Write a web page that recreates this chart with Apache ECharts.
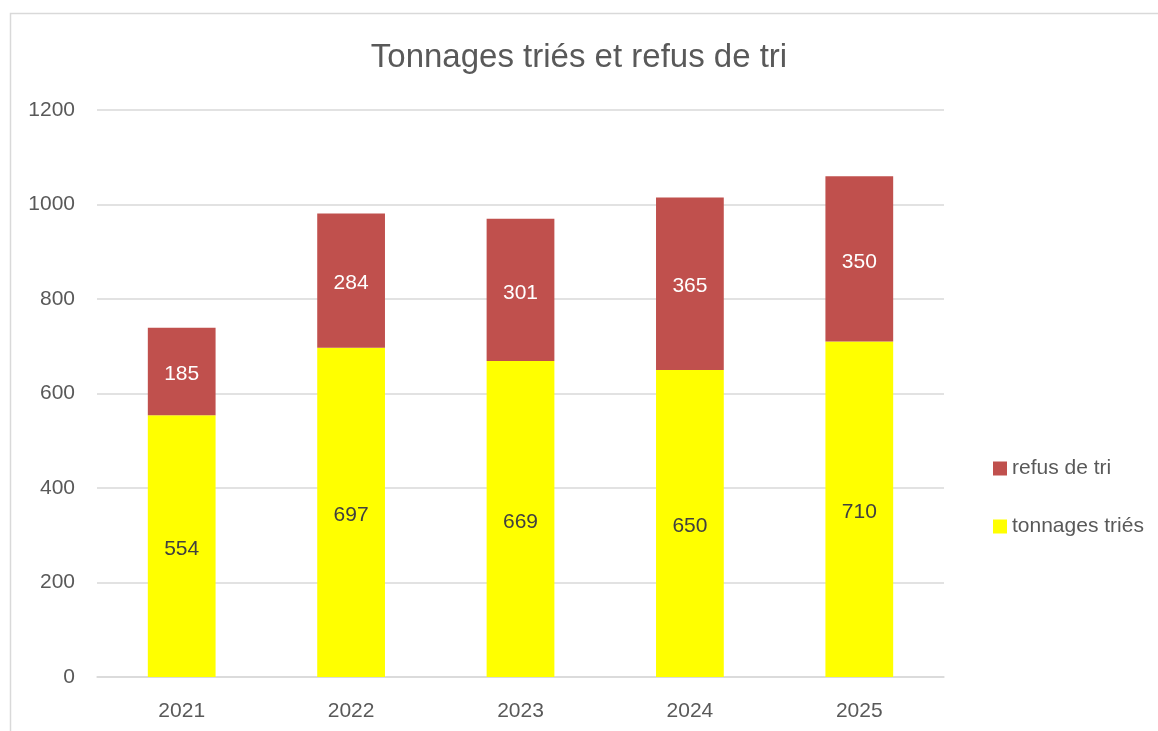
<!DOCTYPE html>
<html>
<head>
<meta charset="utf-8">
<script src="https://cdn.jsdelivr.net/npm/echarts@6/dist/echarts.min.js"></script>
<style>
  html, body { margin: 0; padding: 0; background: #fff; }
  #chart { width: 1158px; height: 731px; }
</style>
</head>
<body>
<div id="chart"></div>
<script>
var years = ['2021', '2022', '2023', '2024', '2025'];
var tonnagesTries = [554, 697, 669, 650, 710];
var refusDeTri = [185, 284, 301, 365, 350];
var yTicks = [0, 200, 400, 600, 800, 1000, 1200];

var font = 'Liberation Sans, Arial, sans-serif';
var chart = echarts.init(document.getElementById('chart'));

var option = {
    backgroundColor: '#fff',
    textStyle: { fontFamily: font },
    graphic: [
        {
            type: 'rect',
            left: 8, top: 11,
            shape: { width: 1300, height: 900 },
            style: { fill: 'none', stroke: '#d9d9d9', lineWidth: 1.5 },
            silent: true
        }
    ],
    title: {
        text: 'Tonnages triés et refus de tri',
        left: 'center',
        top: 36,
        textStyle: { fontFamily: font, fontSize: 33, fontWeight: 'normal', color: '#595959' }
    },
    legend: {
        orient: 'vertical',
        left: 988,
        top: 453,
        itemWidth: 14,
        itemHeight: 14,
        itemGap: 37,
        icon: 'rect',
        data: ['refus de tri', 'tonnages triés'],
        textStyle: { fontFamily: font, fontSize: 21, color: '#595959' }
    },
    grid: { left: 97, right: 214, top: 110, bottom: 54, containLabel: false },
    xAxis: {
        type: 'category',
        data: years,
        axisTick: { show: false },
        axisLine: { lineStyle: { color: '#d9d9d9', width: 1.5 } },
        axisLabel: { fontFamily: font, fontSize: 21, color: '#595959', margin: 24 }
    },
    yAxis: {
        type: 'value',
        min: yTicks[0],
        max: yTicks[yTicks.length - 1],
        interval: 200,
        axisLine: { show: false },
        axisTick: { show: false },
        splitLine: { lineStyle: { color: '#d9d9d9', width: 1.5 } },
        axisLabel: {
            fontFamily: font, fontSize: 21, color: '#595959', margin: 22,
            formatter: function (v) { return String(v); }
        }
    },
    series: [
        {
            name: 'tonnages triés',
            type: 'bar',
            stack: 'total',
            barWidth: '40%',
            itemStyle: { color: '#ffff00' },
            label: { show: true, position: 'inside', offset: [0, 3], fontFamily: font, fontSize: 21, color: '#404040' },
            data: tonnagesTries
        },
        {
            name: 'refus de tri',
            type: 'bar',
            stack: 'total',
            barWidth: '40%',
            itemStyle: { color: '#c0504d' },
            label: { show: true, position: 'inside', offset: [0, 3], fontFamily: font, fontSize: 21, color: '#ffffff' },
            data: refusDeTri
        }
    ]
};

chart.setOption(option);
</script>
</body>
</html>
